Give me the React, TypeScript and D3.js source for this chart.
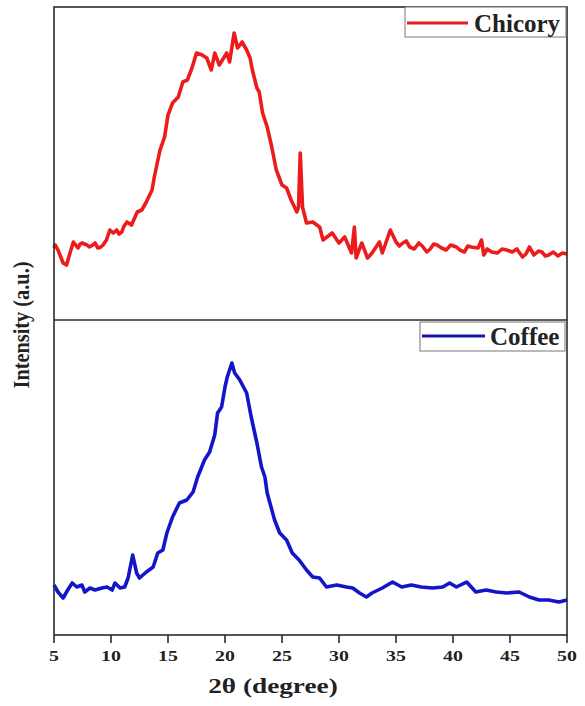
import React from "react";
import * as d3 from "d3";

// 2θ positions (degree) and intensities (a.u.) for each sample
const chicoryTheta = [5.0, 5.1, 5.35, 5.8, 6.1, 6.4, 6.7, 7.1, 7.3, 7.45, 7.9, 8.1, 8.4, 8.6, 8.85, 9.1, 9.3, 9.6, 9.9, 10.2, 10.5, 10.7, 10.95, 11.1, 11.4, 11.8, 12.3, 12.7, 13.1, 13.6, 13.8, 14.3, 14.7, 15.0, 15.4, 15.9, 16.3, 16.7, 17.1, 17.5, 18.0, 18.4, 18.8, 19.1, 19.5, 20.15, 20.4, 20.8, 21.1, 21.5, 21.9, 22.2, 22.4, 22.8, 23.0, 23.3, 23.7, 24.1, 24.5, 25.0, 25.4, 25.8, 26.3, 26.45, 26.6, 26.8, 27.15, 27.7, 28.3, 28.6, 29.4, 30.0, 30.5, 31.1, 31.35, 31.5, 32.0, 32.5, 32.9, 33.55, 33.8, 34.5, 35.0, 35.3, 35.6, 35.9, 36.2, 36.6, 37.0, 37.3, 37.7, 38.0, 38.3, 38.6, 39.0, 39.4, 39.8, 40.3, 40.6, 41.0, 41.3, 41.6, 42.2, 42.5, 42.7, 43.0, 43.4, 43.9, 44.3, 44.7, 45.2, 45.6, 46.1, 46.4, 46.7, 47.1, 47.5, 47.8, 48.1, 48.4, 48.8, 49.2, 49.6, 50.0];
const chicoryIntensity = [72, 75, 70, 57, 55, 67, 78, 72, 76, 77, 75, 73, 75, 77, 72, 73, 75, 80, 90, 87, 90, 86, 88, 93, 98, 95, 108, 110, 118, 130, 143, 170, 183, 205, 217, 223, 238, 240, 252, 267, 265, 262, 250, 267, 255, 267, 258, 287, 272, 278, 270, 262, 250, 232, 228, 207, 193, 173, 150, 135, 132, 120, 108, 113, 167, 113, 97, 98, 93, 80, 87, 77, 83, 67, 93, 62, 77, 62, 67, 78, 67, 90, 78, 74, 77, 79, 73, 71, 77, 74, 68, 71, 76, 75, 72, 70, 75, 73, 70, 68, 74, 73, 72, 80, 65, 71, 68, 67, 71, 70, 68, 71, 63, 66, 73, 65, 69, 68, 64, 65, 68, 64, 67, 66];

const coffeeTheta = [5.0, 5.1, 5.35, 5.8, 6.2, 6.6, 7.0, 7.45, 7.7, 8.15, 8.6, 9.2, 9.65, 10.1, 10.35, 10.8, 11.2, 11.5, 11.9, 12.25, 12.5, 13.1, 13.7, 14.1, 14.55, 14.9, 15.4, 16.0, 16.65, 17.2, 17.6, 18.2, 18.65, 19.1, 19.35, 19.7, 20.0, 20.2, 20.6, 20.85, 21.3, 21.9, 22.3, 22.8, 23.2, 23.5, 23.7, 24.35, 24.8, 25.4, 25.9, 26.5, 27.15, 27.7, 28.3, 28.9, 29.8, 30.65, 31.2, 31.8, 32.4, 32.9, 33.8, 34.7, 35.5, 36.35, 37.2, 38.2, 39.1, 39.7, 40.3, 41.2, 42.0, 42.9, 43.8, 44.7, 45.8, 46.7, 47.55, 48.4, 49.3, 50.0];
const coffeeIntensity = [50, 48, 43, 37, 45, 52, 48, 50, 43, 47, 45, 47, 48, 45, 52, 47, 48, 57, 80, 62, 57, 63, 68, 82, 85, 102, 118, 132, 135, 143, 158, 175, 183, 200, 222, 228, 248, 258, 272, 262, 255, 242, 218, 192, 168, 158, 142, 115, 102, 95, 82, 75, 65, 58, 57, 48, 50, 48, 47, 42, 38, 42, 47, 53, 48, 50, 48, 47, 48, 52, 48, 53, 43, 45, 43, 42, 43, 38, 35, 35, 33, 35];

const xTicks = [5, 10, 15, 20, 25, 30, 35, 40, 45, 50];

const W = 585;
const H = 706;
const left = 54;
const right = 567;
const top = 7;
const mid = 320;
const bottom = 635;
const serif = "'Liberation Serif', 'Times New Roman', serif";
const frame = "#2b2b2b";

export default function App() {
  const x = d3.scaleLinear().domain([5, 50]).range([left, right]);
  const yTop = d3.scaleLinear().domain([0, 313]).range([mid, top]);
  const yBot = d3.scaleLinear().domain([0, 315]).range([bottom, mid]);

  const chicory = chicoryTheta.map((t, i) => [t, chicoryIntensity[i]] as [number, number]);
  const coffee = coffeeTheta.map((t, i) => [t, coffeeIntensity[i]] as [number, number]);

  const lineTop = d3.line<[number, number]>().x(d => x(d[0])).y(d => yTop(d[1]));
  const lineBot = d3.line<[number, number]>().x(d => x(d[0])).y(d => yBot(d[1]));

  return (
    <svg width={W} height={H} style={{ position: "absolute", left: 0, top: 0, background: "#fff" }}>
      {/* traces */}
      <path d={lineTop(chicory) ?? ""} fill="none" stroke="#ec1c1c" strokeWidth={3.6} strokeLinejoin="round" />
      <path d={lineBot(coffee) ?? ""} fill="none" stroke="#1414c8" strokeWidth={3.6} strokeLinejoin="round" />

      {/* frame and panel divider */}
      <rect x={left} y={top} width={right - left} height={bottom - top} fill="none" stroke={frame} strokeWidth={1.6} />
      <line x1={left} x2={right} y1={mid} y2={mid} stroke={frame} strokeWidth={1.4} />

      {/* bottom axis, labels are a little wide in this figure */}
      {xTicks.map(t => (
        <g key={t}>
          <line x1={x(t)} x2={x(t)} y1={bottom} y2={bottom + 8} stroke={frame} strokeWidth={1.6} />
          <text transform={`translate(${x(t)},661) scale(1.28,1)`} textAnchor="middle" fontFamily={serif} fontWeight="bold" fontSize={15.5} fill="#222">{t}</text>
        </g>
      ))}
      <text transform="translate(273,693) scale(1.24,1)" textAnchor="middle" fontFamily={serif} fontWeight="bold" fontSize={22} fill="#222">2θ (degree)</text>
      <text transform="translate(29,325) rotate(-90) scale(1.07,1.2)" textAnchor="middle" fontFamily={serif} fontWeight="bold" fontSize={19} fill="#222">Intensity (a.u.)</text>

      {/* legends */}
      <rect x={405} y={7} width={161} height={30} fill="#fff" stroke="#777" strokeWidth={1} />
      <line x1={407} x2={468} y1={23} y2={23} stroke="#e02020" strokeWidth={3} />
      <text x={474} y={32} fontFamily={serif} fontWeight="bold" fontSize={25} fill="#222">Chicory</text>

      <rect x={420} y={322} width={145} height={29} fill="#fff" stroke="#777" strokeWidth={1} />
      <line x1={422} x2={485} y1={336} y2={336} stroke="#1414b0" strokeWidth={3} />
      <text x={490} y={345} fontFamily={serif} fontWeight="bold" fontSize={25} fill="#222">Coffee</text>
    </svg>
  );
}
